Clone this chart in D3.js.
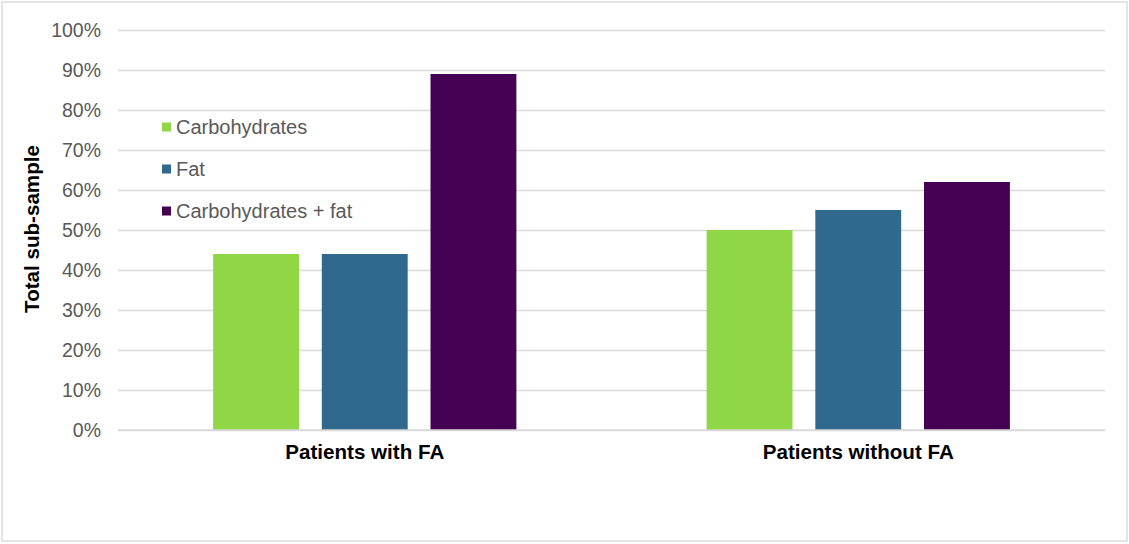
<!DOCTYPE html>
<html>
<head>
<meta charset="utf-8">
<script src="https://cdn.jsdelivr.net/npm/d3@7"></script>
<style>
  html, body { margin: 0; padding: 0; background: #ffffff; }
  svg { display: block; }
  text { font-family: "Liberation Sans", Arial, sans-serif; }
</style>
</head>
<body>
<svg id="chart" width="1129" height="544"></svg>
<script>
const categories = ["Patients with FA", "Patients without FA"];
const seriesNames = ["Carbohydrates", "Fat", "Carbohydrates + fat"];
const carbohydrates = [0.44, 0.50];
const fat = [0.44, 0.55];
const carbsFat = [0.89, 0.62];
const yTicks = [0, 0.1, 0.2, 0.3, 0.4, 0.5, 0.6, 0.7, 0.8, 0.9, 1.0];
const colors = ["#8fd744", "#31688e", "#440154"];

const seriesValues = [carbohydrates, fat, carbsFat];

const svg = d3.select("#chart");

// outer frame
svg.append("rect")
  .attr("x", 2).attr("y", 2).attr("width", 1125).attr("height", 539)
  .attr("fill", "#ffffff").attr("stroke", "#dcdcdc").attr("stroke-width", 1.5);

const mLeft = 118, mRight = 1105, mTop = 30, mBottom = 430;

const x0 = d3.scaleBand().domain(categories).range([mLeft, mRight]).padding(0);
const x1 = d3.scaleBand().domain(seriesNames).range([0, x0.bandwidth()])
  .paddingInner(0.21).paddingOuter(0.875);
const y = d3.scaleLinear().domain([0, 1]).range([mBottom, mTop]);

// gridlines
const yAxis = d3.axisLeft(y).tickValues(yTicks)
  .tickFormat(d3.format(".0%")).tickSize(-(mRight - mLeft)).tickPadding(17);
const gy = svg.append("g").attr("transform", `translate(${mLeft},0)`).call(yAxis);
gy.select(".domain").remove();
gy.selectAll(".tick line").attr("stroke", "#d9d9d9").attr("stroke-width", 1.6);
gy.selectAll(".tick text")
  .attr("fill", "#595959")
  .style("font-size", "19.5px")
  .style("font-family", "'Liberation Sans', Arial, sans-serif");

// bars
const groups = svg.append("g").selectAll("g")
  .data(categories)
  .join("g")
  .attr("transform", d => `translate(${x0(d)},0)`);

groups.selectAll("rect")
  .data((c, i) => seriesNames.map((s, j) => ({ s, j, v: seriesValues[j][i] })))
  .join("rect")
  .attr("x", d => x1(d.s))
  .attr("width", x1.bandwidth())
  .attr("y", d => y(d.v))
  .attr("height", d => y(0) - y(d.v))
  .attr("fill", d => colors[d.j]);

// x axis line at 0 drawn over bars
svg.append("line")
  .attr("x1", mLeft).attr("x2", mRight)
  .attr("y1", y(0)).attr("y2", y(0))
  .attr("stroke", "#d9d9d9").attr("stroke-width", 1.6);

// x axis labels
const xAxis = d3.axisBottom(x0).tickSize(0).tickPadding(14);
const gx = svg.append("g").attr("transform", `translate(0,${mBottom})`).call(xAxis);
gx.select(".domain").remove();
gx.selectAll(".tick text")
  .attr("fill", "#000000")
  .style("font-size", "20.6px")
  .style("font-weight", "bold")
  .style("font-family", "'Liberation Sans', Arial, sans-serif");

// y axis title
svg.append("text")
  .attr("transform", `translate(39,229) rotate(-90)`)
  .attr("text-anchor", "middle")
  .attr("fill", "#000000")
  .style("font-size", "20.6px")
  .style("font-weight", "bold")
  .text("Total sub-sample");

// legend
const legend = svg.append("g").attr("transform", "translate(162,127)");
const li = legend.selectAll("g").data(seriesNames).join("g")
  .attr("transform", (d, i) => `translate(0,${i * 42})`);
li.append("rect")
  .attr("x", 0).attr("y", -4.5).attr("width", 9).attr("height", 9)
  .attr("fill", (d, i) => colors[i]);
li.append("text")
  .attr("x", 14).attr("y", 0).attr("dy", "0.35em")
  .attr("fill", "#595959")
  .style("font-size", "20px")
  .text(d => d);
</script>
</body>
</html>
